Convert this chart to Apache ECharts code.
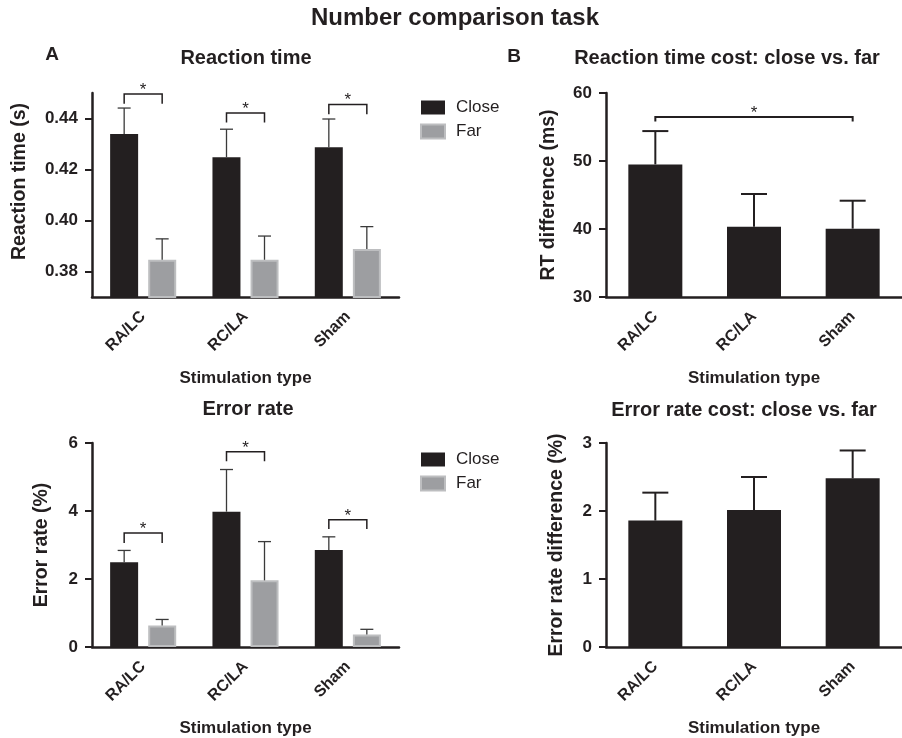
<!DOCTYPE html>
<html><head><meta charset="utf-8">
<script src="https://cdn.jsdelivr.net/npm/echarts@6/dist/echarts.min.js"></script>
<style>html,body{margin:0;padding:0;background:#fff}#c{width:902px;height:738px}</style>
</head><body><div id="c"></div>
<script>
// ---- data ----
const categories = ['RA/LC', 'RC/LA', 'Sham'];
const seriesNames = ['Close', 'Far'];
// Panel A top: reaction time (s)
const rtClose = [0.4339, 0.4248, 0.4287];
const rtCloseErr = [0.0102, 0.0110, 0.0111];
const rtFar = [0.3846, 0.3846, 0.3888];
const rtFarErr = [0.0082, 0.0093, 0.0088];
const rtTicks = [0.38, 0.40, 0.42, 0.44];
// significance brackets: [fromCategory, toCategory, bracketTop, legEnd]
const rtSig = [[0, 0, 0.4496, 0.4458], [1, 1, 0.4422, 0.4384], [2, 2, 0.4455, 0.4417]];
// Panel B top: RT cost (ms)
const rtCost = [49.5, 40.34, 40.05];
const rtCostErr = [4.9, 4.81, 4.11];
const rtCostSig = [[0, 2, 56.47, 55.8]];
// Panel A bottom: error rate (%)
const erClose = [2.49, 3.98, 2.85];
const erCloseErr = [0.35, 1.24, 0.39];
const erFar = [0.63, 1.96, 0.37];
const erFarErr = [0.18, 1.14, 0.15];
const erSig = [[0, 0, 3.35, 3.06], [1, 1, 5.74, 5.46], [2, 2, 3.74, 3.47]];
// Panel B bottom: error rate cost (%)
const erCost = [1.86, 2.015, 2.48];
const erCostErr = [0.41, 0.485, 0.41];

// ---- styles ----
const FONT = '"Liberation Sans", Arial, Helvetica, sans-serif';
const INK = '#231f20';
const CLOSE_COLOR = '#231f20';
const FAR_COLOR = '#9d9ea1';
const FAR_BORDER = '#bdbec0';

const chart = echarts.init(document.getElementById('c'), null, {renderer: 'canvas'});

function errorBarSeries(idx, values, errs, offset, lw, capHalf, color) {
  return {
    type: 'custom', xAxisIndex: idx, yAxisIndex: idx, z: 5, silent: true,
    encode: {x: 0, y: 1},
    data: values.map((v, i) => [i, v, errs[i]]),
    renderItem(params, api) {
      const c = api.value(0), v = api.value(1), e = api.value(2);
      const p0 = api.coord([c, v]);
      const p1 = api.coord([c, v + e]);
      const x = p0[0] + offset;
      const st = {stroke: color, lineWidth: lw};
      return {type: 'group', children: [
        {type: 'line', shape: {x1: x, y1: p0[1], x2: x, y2: p1[1]}, style: st},
        {type: 'line', shape: {x1: x - capHalf, y1: p1[1], x2: x + capHalf, y2: p1[1]}, style: st}
      ]};
    }
  };
}

function bracketSeries(idx, data, offL, offR, lw) {
  return {
    type: 'custom', xAxisIndex: idx, yAxisIndex: idx, z: 6, silent: true,
    encode: {x: 0, y: 2},
    data: data,
    renderItem(params, api) {
      const a = api.coord([api.value(0), api.value(2)]);
      const b = api.coord([api.value(1), api.value(2)]);
      const leg = api.coord([api.value(0), api.value(3)]);
      const xl = a[0] + offL, xr = b[0] + offR, yt = a[1], yl = leg[1];
      const st = {stroke: INK, lineWidth: lw, fill: null};
      return {type: 'group', children: [
        {type: 'polyline', shape: {points: [[xl, yl], [xl, yt], [xr, yt], [xr, yl]]}, style: st},
        {type: 'text', x: (xl + xr) / 2, y: yt - 4,
          style: {text: '*', fontSize: 17, fontFamily: FONT, fill: INK, align: 'center', verticalAlign: 'middle'}}
      ]};
    }
  };
}

function xAxis(idx) {
  return {
    type: 'category', gridIndex: idx, data: categories,
    name: 'Stimulation type', nameLocation: 'middle', nameGap: 73,
    nameTextStyle: {fontSize: 17, fontWeight: 'bold', fontFamily: FONT, color: INK},
    axisLine: {lineStyle: {color: INK, width: 2.5}},
    axisTick: {alignWithLabel: true, length: 7, lineStyle: {color: INK, width: 2}},
    axisLabel: {rotate: 45, margin: 17, fontSize: 16, fontWeight: 'bold', fontFamily: FONT, color: INK, interval: 0},
    splitLine: {show: false}
  };
}

function yAxis(idx, name, gap, min, max, interval, extra) {
  const ax = {
    type: 'value', gridIndex: idx, min: min, max: max, interval: interval,
    name: name, nameLocation: 'middle', nameGap: gap,
    nameTextStyle: {fontSize: 19.5, fontWeight: 'bold', fontFamily: FONT, color: INK},
    axisLine: {show: true, lineStyle: {color: INK, width: 2.5}},
    axisTick: {show: true, length: 7, lineStyle: {color: INK, width: 2}},
    axisLabel: {margin: 14, fontSize: 17, fontWeight: 'bold', fontFamily: FONT, color: INK},
    splitLine: {show: false}
  };
  return Object.assign(ax, extra || {});
}

const titleStyle = (size) => ({fontSize: size, fontWeight: 'bold', fontFamily: FONT, color: INK, lineHeight: size});
function title(text, cx, cy, size) {
  return {text: text, left: cx, top: cy - size / 2, textAlign: 'center', padding: 0, textStyle: titleStyle(size)};
}

const legendBase = (top) => ({
  data: seriesNames, orient: 'vertical', left: 420, top: top, padding: 0,
  itemWidth: 24, itemHeight: 14, itemGap: 7, icon: 'rect', selectedMode: false,
  textStyle: {fontSize: 17, fontFamily: FONT, color: INK, lineHeight: 14, padding: [0, 0, 0, 6]}
});

const option = {
  backgroundColor: '#ffffff',
  animation: false,
  title: [
    title('Number comparison task', 455, 18, 24),
    title('A', 52, 55, 19),
    title('B', 514, 57, 19),
    title('Reaction time', 246, 58, 20),
    title('Reaction time cost: close vs. far', 727, 58, 20),
    title('Error rate', 248, 409, 20),
    title('Error rate cost: close vs. far', 744, 410, 20)
  ],
  legend: [legendBase(99), legendBase(451)],
  grid: [
    {left: 92, top: 93, width: 307, height: 204},
    {left: 606, top: 93, width: 307.5, height: 204},
    {left: 92, top: 443, width: 307, height: 204},
    {left: 606, top: 443, width: 307.5, height: 205}
  ],
  xAxis: [xAxis(0), xAxis(1), xAxis(2), xAxis(3)],
  yAxis: [
    yAxis(0, 'Reaction time (s)', 62, 0.37, 0.45, null, {
      axisLabel: {margin: 14, fontSize: 17, fontWeight: 'bold', fontFamily: FONT, color: INK,
        customValues: rtTicks, formatter: (v) => v.toFixed(2)},
      axisTick: {show: true, length: 7, lineStyle: {color: INK, width: 2}, customValues: rtTicks},
      nameTextStyle: {fontSize: 19.5, fontWeight: 'bold', fontFamily: FONT, color: INK, padding: [0, 0, 0, 27]}
    }),
    yAxis(1, 'RT difference (ms)', 47, 30, 60, 10),
    yAxis(2, 'Error rate (%)', 40, 0, 6, 2),
    yAxis(3, 'Error rate difference (%)', 39, 0, 3, 1)
  ],
  series: [
    {type: 'bar', name: 'Close', xAxisIndex: 0, yAxisIndex: 0, data: rtClose, barWidth: 28, barGap: '36%',
      itemStyle: {color: CLOSE_COLOR}},
    {type: 'bar', name: 'Far', xAxisIndex: 0, yAxisIndex: 0, data: rtFar, barWidth: 28, barGap: '36%',
      itemStyle: {color: FAR_COLOR, borderColor: FAR_BORDER, borderWidth: 2}},
    errorBarSeries(0, rtClose, rtCloseErr, -19, 1.3, 6.5, '#3a3a3a'),
    errorBarSeries(0, rtFar, rtFarErr, 19, 1.3, 6.5, '#3a3a3a'),
    bracketSeries(0, rtSig, -19, 19, 1.5),

    {type: 'bar', name: 'RT cost', xAxisIndex: 1, yAxisIndex: 1, data: rtCost, barWidth: 54,
      itemStyle: {color: CLOSE_COLOR}},
    errorBarSeries(1, rtCost, rtCostErr, 0, 2, 13, INK),
    bracketSeries(1, rtCostSig, 0, 0, 2),

    {type: 'bar', name: 'Close', xAxisIndex: 2, yAxisIndex: 2, data: erClose, barWidth: 28, barGap: '36%',
      itemStyle: {color: CLOSE_COLOR}},
    {type: 'bar', name: 'Far', xAxisIndex: 2, yAxisIndex: 2, data: erFar, barWidth: 28, barGap: '36%',
      itemStyle: {color: FAR_COLOR, borderColor: FAR_BORDER, borderWidth: 2}},
    errorBarSeries(2, erClose, erCloseErr, -19, 1.3, 6.5, '#3a3a3a'),
    errorBarSeries(2, erFar, erFarErr, 19, 1.3, 6.5, '#3a3a3a'),
    bracketSeries(2, erSig, -19, 19, 1.5),

    {type: 'bar', name: 'Error cost', xAxisIndex: 3, yAxisIndex: 3, data: erCost, barWidth: 54,
      itemStyle: {color: CLOSE_COLOR}},
    errorBarSeries(3, erCost, erCostErr, 0, 2, 13, INK)
  ]
};
chart.setOption(option);
</script>
</body></html>
